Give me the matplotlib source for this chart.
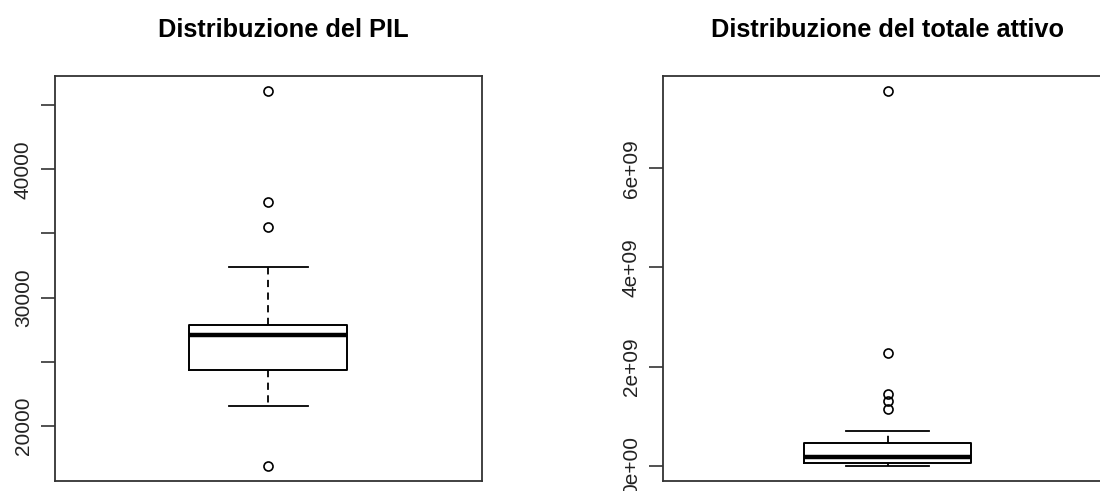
import matplotlib
matplotlib.use("Agg")
import matplotlib.pyplot as plt

plt.rcParams['font.family'] = ['Liberation Sans', 'DejaVu Sans']

# Box summaries
titles = ["Distribuzione del PIL", "Distribuzione del totale attivo"]

pil_box = [24350, 27080, 27910]          # q1, median, q3
pil_whiskers = [21550, 32350]
pil_outliers = [46110, 37450, 35530, 16920]
pil_ticks = [20000, 25000, 30000, 35000, 40000, 45000]
pil_ticklabels = ["20000", "", "30000", "", "40000", ""]

attivo_box = [0.055e9, 0.182e9, 0.472e9]
attivo_whiskers = [0.005e9, 0.695e9]
attivo_outliers = [7.56e9, 2.284e9, 1.453e9, 1.318e9, 1.145e9]
attivo_ticks = [0, 2e9, 4e9, 6e9]
attivo_ticklabels = ["0e+00", "2e+09", "4e+09", "6e+09"]

fig = plt.figure(figsize=(11, 4.91), dpi=100)
ax1 = fig.add_axes([0.05, 0.021, 0.3879, 0.8248])
ax2 = fig.add_axes([0.6027, 0.021, 0.4085, 0.8248])


def draw_box(ax, box, whiskers, outliers, ticks, ticklabels, title, title_x=0.5):
    stats = [{
        'q1': box[0], 'med': box[1], 'q3': box[2],
        'whislo': whiskers[0], 'whishi': whiskers[1],
        'fliers': outliers,
    }]
    ax.bxp(stats, positions=[1], widths=0.371, showfliers=True,
           boxprops=dict(color='black', linewidth=1.4),
           medianprops=dict(color='black', linewidth=3.2, solid_capstyle='butt'),
           whiskerprops=dict(color='black', linewidth=1.3, linestyle=(0, (4, 3))),
           capprops=dict(color='black', linewidth=1.3),
           flierprops=dict(marker='o', markerfacecolor='none', markeredgecolor='black',
                           markersize=6.5, markeredgewidth=1.2),
           capwidths=0.185)
    lo = min(whiskers[0], min(outliers))
    hi = max(whiskers[1], max(outliers))
    pad = (hi - lo) * 0.04
    ax.set_ylim(lo - pad, hi + pad)
    ax.set_xlim(0.5, 1.5)
    ax.set_xticks([])
    ax.set_yticks(ticks)
    ax.set_yticklabels(ticklabels, rotation=90, va='center', fontsize=15, color='#222222')
    ax.tick_params(axis='y', length=10, width=1.2, pad=6, color='#333333')
    for s in ax.spines.values():
        s.set_linewidth(1.3)
        s.set_color('#333333')
    ax.set_title(title, fontsize=18.3, fontweight='bold', pad=28, x=title_x)


draw_box(ax1, pil_box, pil_whiskers, pil_outliers, pil_ticks, pil_ticklabels, titles[0], 0.535)
draw_box(ax2, attivo_box, attivo_whiskers, attivo_outliers, attivo_ticks, attivo_ticklabels, titles[1])

fig.savefig("out.png", dpi=100)
